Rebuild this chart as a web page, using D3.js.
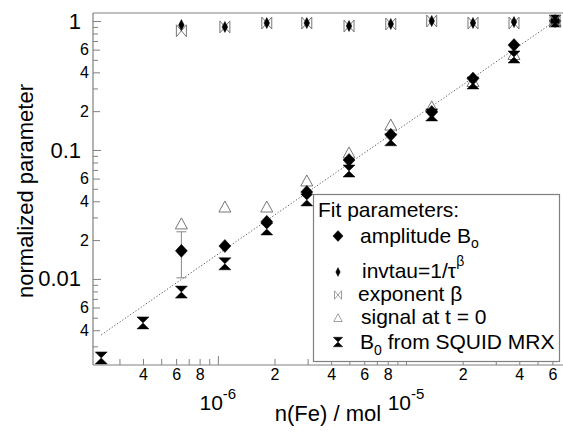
<!DOCTYPE html>
<html><head><meta charset="utf-8">
<script src="https://cdn.jsdelivr.net/npm/d3@7"></script>
<style>
body{margin:0;background:#fff;}
svg{font-family:"Liberation Sans",Arial,sans-serif;}
</style></head>
<body><svg id="c" width="563" height="432"></svg>
<script>
// ---- data ----
const nFe      = [2.4e-7, 4.0e-7, 6.4e-7, 1.09e-6, 1.82e-6, 2.97e-6, 4.98e-6, 8.3e-6, 1.37e-5, 2.27e-5, 3.75e-5, 6.2e-5];
const squidB0  = [0.00244, 0.00456, 0.0079, 0.0131, 0.0244, 0.041, 0.0687, 0.12, 0.187, 0.331, 0.526, 1.0];
const amplitude= [null, null, 0.0165, 0.018, 0.0277, 0.0472, 0.0836, 0.131, 0.197, 0.358, 0.651, 1.0];
const signal0  = [null, null, 0.0267, 0.0361, 0.0361, 0.0575, 0.0948, 0.156, 0.216, 0.34, 0.55, 1.0];
const invtau   = [null, null, 0.93, 0.90, 0.965, 0.965, 0.915, 0.948, 1.0, 0.965, 0.982, 1.0];
const exponent = [null, null, 0.84, 0.90, 0.965, 0.965, 0.915, 0.948, 1.0, 0.965, 0.965, 1.0];
const errIndex = [2];
const errLow   = [0.0102];
const errHigh  = [0.0232];
const fitX = [2.4e-7, 6.2e-5];
const fitY = [0.00368, 1.0];

const yMajorTicks  = [0.01, 0.1, 1];
const yMajorLabels = ["0.01", "0.1", "1"];
const yMinorLabeled= [0.004, 0.006, 0.02, 0.04, 0.06, 0.2, 0.4, 0.6];
const yMinorLabels = ["4","6","2","4","6","2","4","6"];
const yUnlabeled   = [0.003,0.005,0.007,0.008,0.009,0.03,0.05,0.07,0.08,0.09,0.3,0.5,0.7,0.8,0.9];
const xMajorTicks  = [1e-6, 1e-5];
const xMajorExp    = ["-6", "-5"];
const xMinorLabeled= [4e-7, 6e-7, 8e-7, 2e-6, 4e-6, 6e-6, 8e-6, 2e-5, 4e-5, 6e-5];
const xMinorLabels = ["4","6","8","2","4","6","8","2","4","6"];
const xUnlabeled   = [3e-7,5e-7,7e-7,9e-7,3e-6,5e-6,7e-6,9e-6,3e-5,5e-5];

const legendItems = ["amplitude", "invtau", "exponent", "signal", "squid"];

// ---- layout ----
const L = 93, R = 565, T = 13, B = 365;
const svg = d3.select("#c");
const x = d3.scaleLog().domain([2.17e-7, 7.0e-5]).range([L, R]);
const y = d3.scaleLog().domain([0.00215, 1.154]).range([B, T]);
const gray = "#808080";

// frame
svg.append("line").attr("x1",L).attr("x2",563).attr("y1",T).attr("y2",T).attr("stroke",gray).attr("stroke-width",1.2);
svg.append("line").attr("x1",L).attr("x2",L).attr("y1",T).attr("y2",B).attr("stroke",gray).attr("stroke-width",1.2);
svg.append("line").attr("x1",L).attr("x2",563).attr("y1",B).attr("y2",B).attr("stroke",gray).attr("stroke-width",1.2);

function styleAxis(g, size){
  g.select(".domain").remove();
  g.selectAll(".tick line").attr("stroke", gray);
  g.selectAll(".tick text").attr("fill","#000").style("font-size", size+"px").style("font-family",'"Liberation Sans",Arial,sans-serif');
}
// y axes
svg.append("g").attr("transform",`translate(${L},0)`)
  .call(d3.axisLeft(y).tickValues(yMajorTicks).tickSize(-8).tickPadding(12).tickFormat((d,i)=>yMajorLabels[i]))
  .call(g=>styleAxis(g,22));
svg.append("g").attr("transform",`translate(${L},0)`)
  .call(d3.axisLeft(y).tickValues(yMinorLabeled).tickSize(-7).tickPadding(4).tickFormat((d,i)=>yMinorLabels[i]))
  .call(g=>styleAxis(g,16));
svg.append("g").attr("transform",`translate(${L},0)`)
  .call(d3.axisLeft(y).tickValues(yUnlabeled).tickSize(-5).tickFormat(""))
  .call(g=>styleAxis(g,16));
// x axes
svg.append("g").attr("transform",`translate(0,${B})`)
  .call(d3.axisBottom(x).tickValues(xMajorTicks).tickSize(-9).tickFormat(""))
  .call(g=>styleAxis(g,16));
svg.append("g").attr("transform",`translate(0,${B})`)
  .call(d3.axisBottom(x).tickValues(xMinorLabeled).tickSize(-6).tickPadding(4).tickFormat((d,i)=>xMinorLabels[i]))
  .call(g=>styleAxis(g,16));
svg.append("g").attr("transform",`translate(0,${B})`)
  .call(d3.axisBottom(x).tickValues(xUnlabeled).tickSize(-6).tickFormat(""))
  .call(g=>styleAxis(g,16));
xMajorTicks.forEach((v,i)=>{
  const t = svg.append("text").attr("x", x(v)).attr("y", 410).attr("text-anchor","middle").style("font-size","21px");
  t.append("tspan").text("10");
  t.append("tspan").attr("dy",-11).style("font-size","15px").text(xMajorExp[i]);
});

// axis titles
svg.append("text").attr("x",328).attr("y",421).attr("text-anchor","middle").style("font-size","22px").text("n(Fe) / mol");
svg.append("text").attr("transform","translate(33,191) rotate(-90)").attr("text-anchor","middle").style("font-size","22px").text("normalized parameter");

// fit line
svg.append("line").attr("x1",x(fitX[0])).attr("y1",y(fitY[0])).attr("x2",x(fitX[1])).attr("y2",y(fitY[1]))
  .attr("stroke","#555").attr("stroke-width",1).attr("stroke-dasharray","1.2,2");

// symbol paths
const sym = {
  amplitude: "M0,-6.5L6,0L0,6.5L-6,0Z",
  invtau: "M0,-5.5L2.8,0L0,5.5L-2.8,0Z",
  exponent: "M-5,-6L5,6L5,-6L-5,6Z",
  signal: "M0,-6L6,5L-6,5Z",
  squid: "M-6,-6L6,-6L-6,6L6,6Z"
};
const symStyle = {
  amplitude: {fill:"#000", stroke:"#000", sw:0.5},
  invtau: {fill:"#000", stroke:"#000", sw:0.5},
  exponent: {fill:"none", stroke:"#777", sw:1},
  signal: {fill:"#fff", stroke:"#777", sw:1},
  squid: {fill:"#000", stroke:"#000", sw:0.5}
};
function drawSeries(vals, key){
  const st = symStyle[key];
  svg.append("g").selectAll("path").data(nFe.map((d,i)=>[d,vals[i]]).filter(d=>d[1]!=null))
    .join("path").attr("d",sym[key])
    .attr("transform",d=>`translate(${x(d[0])},${y(d[1])})`)
    .attr("fill",st.fill).attr("stroke",st.stroke).attr("stroke-width",st.sw);
}
// error bar
errIndex.forEach((k,i)=>{
  const cx = x(nFe[k]);
  const g = svg.append("g").attr("stroke","#888").attr("stroke-width",1);
  g.append("line").attr("x1",cx).attr("x2",cx).attr("y1",y(errLow[i])).attr("y2",y(errHigh[i]));
  g.append("line").attr("x1",cx-5).attr("x2",cx+5).attr("y1",y(errLow[i])).attr("y2",y(errLow[i]));
  g.append("line").attr("x1",cx-5).attr("x2",cx+5).attr("y1",y(errHigh[i])).attr("y2",y(errHigh[i]));
});
drawSeries(signal0, "signal");
drawSeries(squidB0, "squid");
drawSeries(amplitude, "amplitude");
drawSeries(exponent, "exponent");
drawSeries(invtau, "invtau");

// legend
const lg = svg.append("g");
lg.append("rect").attr("x",313.5).attr("y",194.5).attr("width",246).attr("height",167).attr("fill","#fff").attr("stroke",gray).attr("stroke-width",1.2);
lg.append("text").attr("x",318).attr("y",217).style("font-size","21px").text("Fit parameters:");
const rowY = [236, 272, 295, 318, 342];
const textX = [360, 362, 358, 361, 360];
const baseY = [243, 278, 301, 324, 349];
legendItems.forEach((k,i)=>{
  const st = symStyle[k];
  lg.append("path").attr("d",sym[k]).attr("transform",`translate(338,${rowY[i]}) scale(${k==="amplitude"?0.85:k==="squid"?0.8:k==="invtau"?0.8:0.7})`)
    .attr("fill",st.fill).attr("stroke",st.stroke).attr("stroke-width",st.sw);
});
function legText(i){ return lg.append("text").attr("x",textX[i]).attr("y",baseY[i]).style("font-size","21px"); }
let t;
t = legText(0); t.append("tspan").text("amplitude B"); t.append("tspan").attr("dy",5).style("font-size","14px").text("o");
t = legText(1); t.append("tspan").text("invtau=1/τ"); t.append("tspan").attr("dy",-12).style("font-size","14px").text("β");
t = legText(2); t.text("exponent β");
t = legText(3); t.text("signal at t = 0");
t = legText(4); t.append("tspan").text("B"); t.append("tspan").attr("dy",6).style("font-size","14px").text("0");
t.append("tspan").attr("dy",-6).text(" from SQUID MRX");
</script></body></html>
